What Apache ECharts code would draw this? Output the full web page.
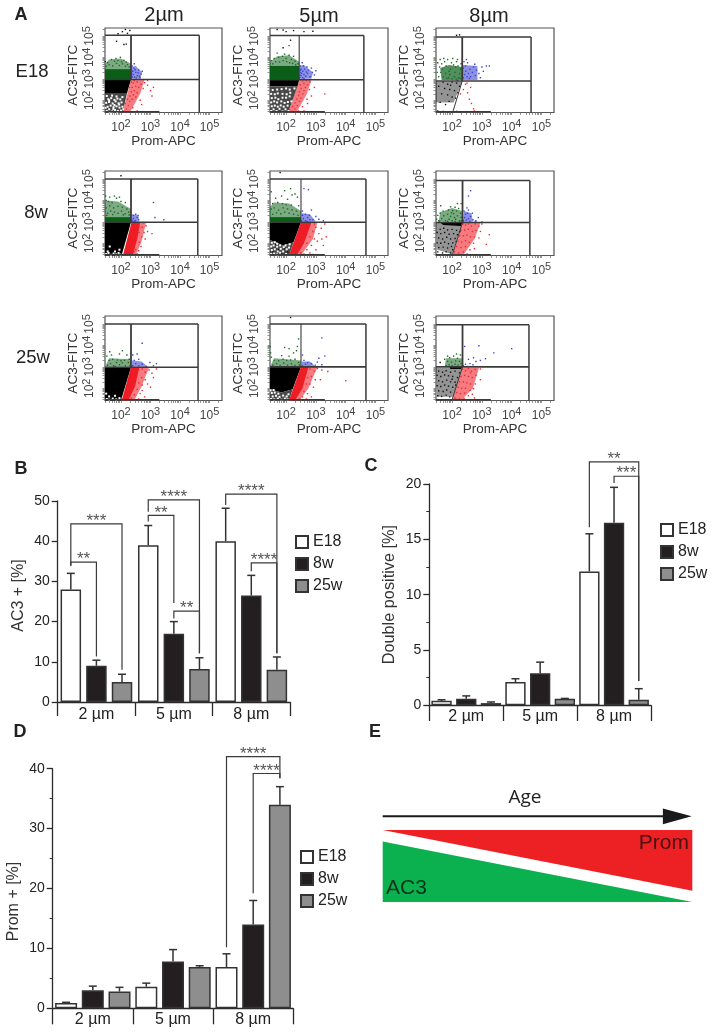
<!DOCTYPE html>
<html><head><meta charset="utf-8">
<style>html,body{margin:0;padding:0;background:#fff}#c{width:713px;height:1035px}</style>
<script src="https://cdn.jsdelivr.net/npm/echarts@6/dist/echarts.min.js"></script>
</head><body><div id="c"></div>
<script>
// ---------- Panel A: flow-cytometry gates: [vertical, right, horizontal, top, diagonal foot] (log10 units)
const gate_e18_2=[2.34,4.65,2.97,5.03,2.06], gate_e18_5=[2.44,4.61,2.96,5.02,2.07], gate_e18_8=[2.34,4.65,2.9,4.95,2.02];
const gate_8w_2=[2.34,4.6,2.98,5.0,2.07], gate_8w_5=[2.5,4.68,2.98,5.0,2.1], gate_8w_8=[2.35,4.61,2.97,4.93,2.0];
const gate_25w_2=[2.34,4.61,2.98,5.0,2.03], gate_25w_5=[2.5,4.68,3.0,5.0,2.1], gate_25w_8=[2.35,4.58,3.0,4.96,1.99];

// dense populations, outlined in log10 units
const blk_e18_2=[[1.46,2.97],[2.34,2.97],[2.2,2.3],[1.46,2.3]], spk_e18_2=[[1.46,2.3],[2.2,2.3],[2.06,1.43],[1.46,1.43]], grn_e18_2=[[1.46,2.97],[2.34,2.97],[2.34,3.45],[1.46,3.45]];
const blk_e18_5=[[1.46,2.96],[2.44,2.96],[2.38,2.65],[1.46,2.65]], spk_e18_5=[[1.46,2.65],[2.38,2.65],[2.07,1.43],[1.46,1.43]], grn_e18_5=[[1.46,2.96],[2.44,2.96],[2.44,3.6],[1.46,3.6]];
const blk_e18_8=[], spk_e18_8=[], grn_e18_8=[[1.65,2.95],[2.34,2.95],[2.34,3.55],[1.9,3.65],[1.6,3.5]];
const blk_8w_2=[[1.46,2.98],[2.34,2.98],[2.02,1.43],[1.46,1.43]], spk_8w_2=[], grn_8w_2=[[1.46,2.98],[2.34,2.98],[2.34,3.22],[1.46,3.22]], red_8w_2=[[2.07,1.43],[2.36,2.97],[2.65,2.97],[2.55,2.2],[2.4,1.43]];
const blk_8w_5=[[1.46,2.98],[2.5,2.98],[2.25,2.05],[1.9,1.9],[1.46,2.15]], spk_8w_5=[[1.46,2.15],[1.9,1.9],[2.25,2.05],[2.1,1.43],[1.46,1.43]], grn_8w_5=[[1.46,2.98],[2.5,2.98],[2.5,3.22],[1.46,3.22]], red_8w_5=[[2.1,1.43],[2.5,2.97],[2.85,2.97],[2.6,2.0],[2.35,1.43]];
const blk_8w_8=[[1.6,2.97],[2.35,2.97],[2.3,2.8],[1.7,2.85]], grn_8w_8=[], spk_8w_8=[];
const blk_25w_2=[[1.46,2.98],[2.34,2.98],[2.0,1.43],[1.46,1.43]], spk_25w_2=[], grn_25w_2=[], red_25w_2=[[2.03,1.43],[2.34,2.97],[2.62,2.97],[2.48,2.1],[2.25,1.43]];
const blk_25w_5=[[1.46,3.0],[2.5,3.0],[2.22,1.95],[1.85,1.8],[1.46,1.95]], spk_25w_5=[[1.46,1.95],[1.85,1.8],[2.22,1.95],[2.1,1.43],[1.46,1.43]], grn_25w_5=[], red_25w_5=[[2.1,1.43],[2.5,2.99],[2.75,2.99],[2.55,2.0],[2.3,1.43]];
const blk_25w_8=[[1.9,3.0],[2.35,3.0],[2.3,2.9],[1.95,2.9]], grn_25w_8=[], spk_25w_8=[];

// thinner clouds around the dense populations: green, blue, red, black
const hg_e18_2=[[1.46,3.3],[2.34,3.3],[2.34,3.7],[2.0,3.95],[1.6,3.9],[1.46,3.7]], hb_e18_2=[[2.36,3],[2.65,3],[2.72,3.3],[2.5,3.6],[2.36,3.55]], hr_e18_2=[[2.06,1.43],[2.34,2.97],[2.8,2.97],[2.65,2.3],[2.3,1.43]], hk_e18_2=[];
const hg_e18_5=[[1.46,3.4],[2.44,3.4],[2.44,3.8],[2.1,4.1],[1.7,4.05],[1.46,3.8]], hb_e18_5=[[2.46,3],[2.85,3],[2.9,3.3],[2.6,3.65],[2.46,3.6]], hr_e18_5=[[2.07,1.43],[2.44,2.96],[2.85,2.96],[2.7,2.3],[2.35,1.43]], hk_e18_5=[];
const hg_e18_8=[], hb_e18_8=[[2.36,2.95],[2.85,2.95],[2.85,3.6],[2.36,3.65]], hr_e18_8=[], hk_e18_8=[[1.46,2.88],[2.34,2.88],[2.05,1.9],[1.46,1.9]];
const hg_8w_2=[[1.46,3.2],[2.34,3.2],[2.34,3.6],[1.9,3.95],[1.46,4.0]], hb_8w_2=[[2.36,3.0],[2.6,3.0],[2.6,3.3],[2.36,3.35]], hr_8w_2=[[2.07,1.43],[2.36,2.97],[2.85,2.97],[2.7,2.1],[2.5,1.43]], hk_8w_2=[];
const hg_8w_5=[[1.46,3.15],[2.5,3.15],[2.5,3.5],[2.1,3.85],[1.6,3.9],[1.46,3.7]], hb_8w_5=[[2.52,3.0],[3.0,3.0],[2.8,3.35],[2.52,3.4]], hr_8w_5=[[2.1,1.43],[2.5,2.97],[3.05,2.97],[2.9,2.2],[2.5,1.43]], hk_8w_5=[];
const hg_8w_8=[[1.55,3],[2.35,3],[2.35,3.5],[2.0,3.65],[1.6,3.45]], hb_8w_8=[[2.37,3],[2.7,3],[2.65,3.4],[2.4,3.5]], hr_8w_8=[[2.02,1.5],[2.35,2.95],[2.95,2.95],[2.75,2.2],[2.4,1.5]], hk_8w_8=[[1.46,2.95],[2.35,2.95],[2.0,1.5],[1.5,1.7]];
const hg_25w_2=[[1.46,3],[2.34,3],[2.34,3.35],[1.6,3.4]], hb_25w_2=[[2.36,3],[2.9,3],[2.7,3.25],[2.36,3.3]], hr_25w_2=[[2.03,1.43],[2.34,2.97],[2.95,2.97],[2.7,2.1],[2.45,1.43]], hk_25w_2=[];
const hg_25w_5=[[1.46,3],[2.5,3],[2.5,3.3],[1.6,3.4]], hb_25w_5=[[2.52,3],[3.0,3],[2.8,3.25],[2.52,3.25]], hr_25w_5=[[2.1,1.43],[2.5,2.99],[3.05,2.99],[2.75,2.0],[2.45,1.43]], hk_25w_5=[];
const hg_25w_8=[[1.75,3],[2.33,3],[2.33,3.4],[1.8,3.4]], hb_25w_8=[], hr_25w_8=[[2.02,1.5],[2.35,2.95],[2.9,2.95],[2.7,2.0],[2.35,1.5]], hk_25w_8=[[1.46,2.95],[2.35,2.95],[2.05,1.6],[1.5,1.6]];

// sparse events read by eye: green, blue, red, black, white
const g_e18_2=[[1.6,3.65],[1.72,3.6],[1.85,3.72],[1.95,3.62],[2.05,3.7],[2.15,3.58],[2.22,3.66],[1.55,3.75],[1.78,3.82],[1.9,3.85],[2.02,3.8],[1.68,3.9],[2.1,3.86],[2.28,3.55],[1.5,3.58],[1.83,3.95],[1.98,4.0],[2.18,3.78]];
const b_e18_2=[[2.38,3.1],[2.42,3.2],[2.46,3.08],[2.5,3.3],[2.55,3.15],[2.4,3.35],[2.48,3.42],[2.58,3.28],[2.62,3.12],[2.68,3.22],[2.44,3.5],[2.52,3.05],[2.38,3.6],[2.6,3.42],[2.72,3.35],[2.36,3.25],[2.45,3.7],[2.65,3.05]];
const r_e18_2=[[2.1,1.55],[2.18,1.6],[2.25,1.75],[2.15,1.85],[2.3,1.95],[2.22,2.05],[2.38,2.05],[2.3,2.2],[2.42,2.25],[2.5,2.15],[2.35,2.4],[2.45,2.45],[2.55,2.35],[2.38,2.6],[2.5,2.65],[2.6,2.6],[2.42,2.8],[2.55,2.85],[2.68,2.75],[2.75,2.55],[2.8,2.82],[2.9,2.7],[3.0,2.45],[3.05,2.2],[2.65,2.0],[2.7,1.8],[2.4,1.65],[2.55,1.5],[2.9,2.92],[2.45,2.92],[2.35,2.85],[2.28,2.6],[3.1,2.6]];
const k_e18_2=[[1.9,5.1],[2.05,5.2],[2.15,5.3],[2.22,5.12],[2.3,5.25],[1.85,4.75],[2.1,4.6],[2.18,4.62],[1.47,3.8]];
const w_e18_2=[[1.52,1.5],[1.6,1.58],[1.7,1.48],[1.8,1.55],[1.9,1.5],[2.0,1.52],[1.55,1.7],[1.65,1.75],[1.75,1.68],[1.85,1.72],[1.95,1.66],[2.05,1.7],[1.5,1.88],[1.6,1.92],[1.72,1.85],[1.82,1.95],[1.92,1.86],[2.02,1.9],[1.57,2.05],[1.67,2.1],[1.78,2.02],[1.88,2.08],[1.98,2.04],[1.52,2.2],[1.7,2.22],[1.85,2.18],[2.05,2.15],[1.62,1.45],[1.74,1.6],[1.94,1.8],[1.48,1.65],[1.87,1.46],[2.08,1.58],[1.6,2.0],[1.78,1.78]];

const g_e18_5=[[1.55,3.7],[1.65,3.8],[1.78,3.78],[1.9,3.85],[2.02,3.8],[2.12,3.75],[2.22,3.72],[2.32,3.65],[1.6,3.95],[1.75,4.0],[1.88,4.05],[2.0,3.95],[2.18,3.9],[2.3,3.82],[1.5,3.85],[1.95,4.15],[2.1,4.1],[2.25,4.05],[2.4,3.7],[2.1,4.55],[1.7,4.2]];
const b_e18_5=[[2.46,3.05],[2.5,3.15],[2.55,3.05],[2.6,3.2],[2.48,3.3],[2.56,3.35],[2.66,3.12],[2.72,3.25],[2.8,3.1],[2.5,3.45],[2.62,3.45],[2.75,3.4],[2.88,3.3],[2.95,3.18],[2.48,3.6],[2.58,3.6],[2.7,3.55],[2.85,3.5],[3.0,3.38],[2.46,3.18],[2.52,3.25],[2.6,3.02],[2.47,3.4],[2.68,3.32],[2.54,3.75]];
const r_e18_5=[[2.12,1.55],[2.2,1.48],[2.3,1.6],[2.22,1.72],[2.38,1.75],[2.3,1.88],[2.45,1.95],[2.36,2.05],[2.5,2.1],[2.42,2.22],[2.56,2.3],[2.45,2.4],[2.6,2.45],[2.5,2.55],[2.65,2.6],[2.48,2.72],[2.6,2.78],[2.72,2.72],[2.55,2.9],[2.68,2.92],[2.78,2.5],[2.85,2.2],[2.7,2.05],[2.55,1.7],[2.42,1.5],[2.8,2.85],[2.95,2.6],[3.3,2.3],[2.6,1.5],[2.72,1.85]];
const k_e18_5=[[1.7,5.3],[1.9,5.28],[2.0,5.2],[2.25,5.25],[2.6,5.2],[2.9,5.22],[2.15,4.8],[1.9,4.45]];
const w_e18_5=[[1.5,1.5],[1.58,1.58],[1.68,1.5],[1.78,1.6],[1.88,1.48],[1.98,1.58],[2.08,1.5],[1.52,1.72],[1.62,1.75],[1.72,1.7],[1.82,1.76],[1.92,1.7],[2.05,1.75],[1.5,1.9],[1.6,1.95],[1.7,1.9],[1.84,1.95],[1.95,1.88],[2.06,1.92],[1.52,2.1],[1.64,2.12],[1.74,2.05],[1.88,2.12],[2.0,2.12],[2.12,2.18],[1.5,2.3],[1.62,2.28],[1.72,2.32],[1.88,2.3],[2.02,2.28],[2.14,2.35],[2.28,2.55],[1.55,2.48],[1.7,2.5],[1.85,2.52],[2.0,2.55],[2.12,2.5],[2.18,1.95]];

const g_e18_8=[[1.55,3.1],[1.62,3.3],[1.58,3.55],[1.52,3.75],[1.65,3.7],[1.75,3.8],[1.85,3.9],[1.68,3.45],[1.7,3.1],[1.78,3.25],[1.8,3.6],[1.88,3.05],[1.92,3.2],[1.95,3.45],[1.98,3.75],[2.02,3.95],[2.08,3.1],[2.1,3.3],[2.12,3.55],[2.15,3.8],[2.22,3.05],[2.25,3.25],[2.28,3.45],[2.3,3.7],[2.32,3.15],[2.2,3.6],[2.05,3.65],[1.9,3.35],[2.0,3.0],[1.72,3.95],[1.6,3.9],[2.18,3.9],[1.82,3.02],[2.27,3.02],[2.14,3.0],[1.5,3.3]];
const b_e18_8=[[2.38,3.05],[2.42,3.2],[2.46,3.35],[2.5,3.1],[2.55,3.25],[2.6,3.45],[2.38,3.5],[2.45,3.6],[2.52,3.75],[2.62,3.1],[2.68,3.3],[2.72,3.55],[2.78,3.15],[2.82,3.4],[2.9,3.25],[3.0,3.55],[3.05,3.35],[3.15,3.6],[2.4,3.8],[2.58,3.02],[2.76,3.68],[3.25,3.6],[2.95,3.05],[2.48,3.9]];
const r_e18_8=[[2.38,2.5],[2.45,2.75],[2.52,2.35],[2.58,2.05],[2.65,1.85],[2.72,1.6],[2.5,2.8],[2.62,2.6],[2.28,2.3],[2.75,1.5]];
const k_e18_8=[[1.7,2.85],[1.85,2.75],[2.0,2.85],[2.15,2.8],[2.25,2.65],[1.75,2.55],[1.92,2.5],[2.08,2.45],[2.2,2.35],[1.65,2.3],[1.85,2.25],[2.0,2.15],[2.12,2.1],[1.55,2.65],[1.6,1.9],[1.78,1.8],[1.9,1.95],[1.52,1.5],[1.7,1.48],[1.85,1.46],[2.0,1.46],[2.15,1.48],[2.3,1.47],[2.5,1.47],[2.7,1.47],[2.15,5.03],[2.25,5.05],[1.62,1.46],[1.95,2.7],[2.18,2.92]];

const g_8w_2=[[1.55,3.4],[1.65,3.5],[1.78,3.45],[1.9,3.4],[2.02,3.5],[2.14,3.38],[2.26,3.45],[1.5,3.65],[1.62,3.75],[1.75,3.65],[1.9,3.72],[2.05,3.68],[2.2,3.6],[1.5,4.0],[1.58,3.95],[1.7,3.9],[1.85,4.1],[2.0,3.95],[2.15,3.9],[1.62,4.15],[1.78,4.2],[1.95,4.15],[1.48,4.2],[2.28,3.32],[1.52,3.3],[1.72,3.34],[2.08,3.32]];
const b_8w_2=[[2.38,3.05],[2.42,3.15],[2.48,3.05],[2.55,3.2],[2.42,3.3],[2.5,3.35],[2.6,3.1],[2.45,3.0],[2.58,3.3],[3.15,3.2],[3.45,3.1],[3.1,3.9]];
const r_8w_2=[[2.6,2.8],[2.72,2.75],[2.78,2.5],[2.7,2.3],[2.62,2.05],[2.68,1.85],[2.5,1.7],[2.55,1.5],[2.82,2.2],[2.9,2.55],[3.05,2.45],[2.75,2.95],[2.62,2.5],[2.45,1.6],[2.6,1.65],[2.85,2.82]];
const k_8w_2=[[2.0,5.15]];
const w_8w_2=[[1.5,1.5],[1.58,1.55],[1.66,1.46],[1.75,1.52],[1.84,1.48],[1.92,1.55],[1.98,1.47],[1.55,1.62],[1.8,1.62],[1.95,1.7],[1.62,1.85]];

const g_8w_5=[[1.55,3.35],[1.68,3.42],[1.82,3.38],[1.95,3.45],[2.1,3.4],[2.25,3.35],[2.4,3.3],[1.5,3.6],[1.6,3.65],[1.75,3.55],[1.9,3.65],[2.05,3.6],[2.2,3.55],[2.35,3.5],[1.55,3.85],[1.72,3.9],[1.88,3.85],[2.0,3.8],[2.18,3.78],[1.65,4.1],[1.85,4.2],[2.05,4.05],[2.2,4.25],[1.95,4.45],[2.15,4.55],[2.3,4.3],[2.38,4.15],[1.5,4.4],[2.42,3.75]];
const b_8w_5=[[2.52,3.05],[2.58,3.15],[2.65,3.05],[2.72,3.2],[2.8,3.1],[2.55,3.3],[2.65,3.35],[2.78,3.3],[2.9,3.1],[3.0,3.25],[3.1,3.12],[3.25,3.05],[2.85,3.55],[2.6,4.55],[2.75,4.5],[2.55,3.5],[2.7,3.02]];
const r_8w_5=[[2.7,2.0],[2.8,2.3],[2.9,2.55],[3.0,2.75],[2.95,2.2],[3.1,2.45],[3.18,2.7],[2.7,1.7],[2.5,1.55],[2.6,1.5],[2.85,1.9],[3.05,2.1],[3.3,2.9],[3.35,2.3],[3.0,1.7],[2.95,2.9],[3.2,2.2],[2.8,1.55],[3.25,1.9],[2.9,1.48]];
const k_8w_5=[[1.8,5.3],[1.55,1.6],[1.75,1.7],[1.95,1.75],[1.65,1.95],[1.85,1.5],[2.05,1.6]];
const w_8w_5=[[1.5,1.5],[1.6,1.52],[1.7,1.48],[1.8,1.56],[1.9,1.62],[2.0,1.5],[1.52,1.68],[1.62,1.72],[1.72,1.62],[1.82,1.74],[1.92,1.82],[2.02,1.72],[1.5,1.85],[1.58,1.9],[1.7,1.84],[1.8,1.9],[1.98,1.9],[2.1,1.8],[1.52,2.02],[1.62,2.05],[1.7,1.98],[2.12,1.95]];

const g_8w_8=[[1.55,3.05],[1.65,3.15],[1.78,3.05],[1.9,3.12],[2.0,3.05],[2.12,3.12],[2.25,3.05],[2.3,3.2],[1.52,3.3],[1.6,3.4],[1.72,3.28],[1.85,3.35],[1.95,3.25],[2.05,3.38],[2.18,3.28],[2.28,3.4],[1.7,3.5],[1.88,3.55],[2.02,3.52],[2.15,3.5],[2.22,3.62],[1.62,3.75],[1.95,3.7],[2.1,3.68],[2.3,3.85],[2.18,3.85],[2.25,3.02],[2.1,3.02],[1.85,3.02],[1.48,3.12],[1.58,3.02],[2.32,3.05],[2.08,3.2],[1.98,3.42]];
const b_8w_8=[[2.38,3.05],[2.42,3.2],[2.48,3.08],[2.55,3.15],[2.6,3.02],[2.45,3.35],[2.52,3.4],[2.62,3.25],[2.7,3.1],[2.8,3.05],[2.88,3.2],[2.55,3.55],[2.4,3.5],[2.68,3.4],[3.0,3.0],[2.55,4.2],[2.62,4.45],[2.78,3.02],[2.5,3.65]];
const r_8w_8=[[2.36,2.9],[2.45,2.85],[2.55,2.9],[2.65,2.8],[2.78,2.9],[2.9,2.8],[3.0,2.9],[2.3,2.6],[2.42,2.62],[2.55,2.65],[2.68,2.55],[2.8,2.6],[2.95,2.55],[3.25,2.4],[2.25,2.35],[2.38,2.35],[2.5,2.38],[2.62,2.3],[2.75,2.3],[2.9,2.25],[2.2,2.1],[2.32,2.05],[2.45,2.12],[2.58,2.05],[2.72,2.0],[2.15,1.85],[2.3,1.8],[2.45,1.85],[2.6,1.7],[2.08,1.6],[2.22,1.55],[2.38,1.6],[2.5,1.5],[2.75,1.75],[3.15,1.95]];
const k_8w_8=[[1.6,2.65],[1.72,2.7],[1.85,2.62],[2.0,2.65],[2.15,2.6],[2.26,2.55],[1.5,2.5],[1.62,2.45],[1.75,2.5],[1.9,2.42],[2.05,2.45],[2.18,2.4],[1.55,2.25],[1.68,2.2],[1.82,2.28],[1.95,2.2],[2.1,2.22],[1.5,2.02],[1.62,2.0],[1.75,2.05],[1.88,1.98],[2.02,2.02],[2.14,2.08],[1.55,1.8],[1.7,1.82],[1.85,1.78],[1.98,1.85],[1.52,1.6],[1.68,1.55],[1.8,1.6],[1.95,1.55],[2.02,1.7],[1.5,1.47],[1.7,1.47],[1.85,1.46],[2.0,1.47],[2.2,1.47],[2.4,1.47],[2.6,1.47],[2.8,1.47]];

const g_25w_2=[[1.55,3.08],[1.65,3.15],[1.75,3.05],[1.85,3.2],[1.95,3.1],[2.05,3.18],[2.15,3.05],[2.25,3.2],[1.6,3.3],[1.72,3.35],[1.88,3.32],[2.0,3.28],[2.12,3.3],[2.28,3.35],[1.52,3.5],[1.68,3.55],[1.95,3.6],[2.2,3.55],[2.05,3.75],[1.62,3.7],[2.3,3.05],[1.8,3.02]];
const b_25w_2=[[2.4,3.05],[2.5,3.15],[2.6,3.05],[2.72,3.12],[2.85,3.02],[2.45,3.3],[2.98,3.2],[3.1,3.05],[2.4,3.55],[2.55,3.6],[2.72,4.1],[2.6,3.35],[3.2,3.15]];
const r_25w_2=[[2.6,2.85],[2.72,2.9],[2.82,2.75],[2.95,2.85],[3.05,2.7],[2.7,2.5],[2.82,2.4],[2.6,2.25],[2.72,2.15],[2.55,1.95],[2.65,1.75],[2.9,2.2],[3.2,2.9],[3.1,2.5],[2.45,1.7],[2.6,1.5],[2.35,1.55],[2.8,1.6],[2.72,1.9],[3.0,2.05]];
const k_25w_2=[];
const w_25w_2=[[1.52,1.5],[1.6,1.47],[1.72,1.52],[1.84,1.48],[1.95,1.54],[1.6,1.62],[1.5,1.75],[1.8,1.65]];

const g_25w_5=[[1.55,3.08],[1.68,3.15],[1.8,3.06],[1.92,3.18],[2.05,3.08],[2.18,3.15],[2.3,3.06],[2.42,3.2],[1.6,3.3],[1.75,3.28],[1.9,3.35],[2.02,3.3],[2.15,3.32],[2.3,3.35],[1.5,3.45],[1.85,3.52],[2.1,3.5],[2.25,3.65],[2.1,3.85],[1.95,3.9],[2.35,3.75],[2.42,4.3],[2.38,3.95],[1.48,3.65],[1.47,3.95],[2.45,3.08],[1.6,3.02],[2.2,3.02]];
const b_25w_5=[[2.55,3.05],[2.65,3.12],[2.75,3.02],[2.85,3.15],[2.98,3.08],[3.05,3.22],[2.6,3.3],[3.2,3.1],[3.1,3.4],[3.3,3.5],[3.2,4.35],[2.72,3.2],[2.55,3.55]];
const r_25w_5=[[2.8,2.9],[2.95,2.8],[3.05,2.92],[3.2,2.85],[3.4,2.78],[2.72,2.5],[2.85,2.55],[2.98,2.4],[2.68,2.2],[2.8,2.2],[2.92,2.05],[2.6,1.85],[2.72,1.75],[2.55,1.6],[2.45,1.5],[2.68,1.5],[4.0,2.35],[3.15,2.4],[2.85,1.6]];
const k_25w_5=[[2.15,5.3]];
const w_25w_5=[[1.5,1.5],[1.6,1.48],[1.72,1.52],[1.84,1.47],[1.96,1.52],[2.05,1.48],[1.55,1.62],[1.66,1.65],[1.78,1.6],[1.9,1.66],[2.02,1.62],[1.52,1.78],[1.62,1.8],[1.74,1.75],[1.48,1.9],[2.08,1.72],[1.58,1.92]];

const g_25w_8=[[1.8,3.05],[1.9,3.1],[2.0,3.05],[2.1,3.12],[2.2,3.08],[2.3,3.15],[1.85,3.25],[1.98,3.22],[2.12,3.28],[2.25,3.25],[1.75,3.35],[1.92,3.42],[2.18,3.4],[2.28,3.55],[1.85,3.5],[2.05,3.5],[2.15,3.6]];
const b_25w_8=[[2.38,3.05],[2.45,3.12],[2.52,3.02],[2.6,3.15],[2.7,3.1],[2.8,3.25],[2.95,3.3],[3.12,3.38],[3.4,3.65],[4.0,3.85],[2.42,3.95],[2.9,3.98],[2.55,3.35],[2.72,3.42]];
const r_25w_8=[[2.34,2.9],[2.45,2.82],[2.55,2.92],[2.65,2.8],[2.78,2.88],[2.95,2.9],[2.3,2.55],[2.42,2.6],[2.55,2.55],[2.68,2.5],[2.8,2.6],[2.95,2.4],[2.25,2.3],[2.38,2.3],[2.5,2.25],[2.62,2.2],[2.78,2.2],[2.2,2.05],[2.32,2.0],[2.45,2.0],[2.6,1.9],[2.72,1.98],[2.15,1.8],[2.28,1.75],[2.42,1.78],[2.55,1.65],[2.1,1.55],[2.25,1.5],[2.4,1.52],[2.75,1.55],[2.68,1.72],[2.62,2.72]];
const k_25w_8=[[1.55,2.8],[1.68,2.75],[1.8,2.82],[1.95,2.75],[2.1,2.8],[2.25,2.72],[1.5,2.6],[1.62,2.55],[1.75,2.62],[1.88,2.58],[2.02,2.55],[2.18,2.5],[1.55,2.35],[1.68,2.3],[1.82,2.38],[1.95,2.3],[2.1,2.28],[1.5,2.12],[1.62,2.08],[1.75,2.15],[1.88,2.1],[2.02,2.05],[2.12,2.15],[1.55,1.88],[1.7,1.85],[1.82,1.92],[1.95,1.82],[1.52,1.65],[1.65,1.62],[1.8,1.68],[1.92,1.6],[1.5,1.47],[1.62,1.46],[1.78,1.47],[1.95,1.46],[2.15,1.47],[2.35,1.47],[2.6,1.47],[2.85,1.46],[1.6,3.2],[2.0,2.42]];

const decadeLabels=[2,3,4,5];
const logTicks=[1.48,1.6,1.7,1.78,1.85,1.9,1.95,2,2.3,2.48,2.6,2.7,2.78,2.85,2.9,2.95,3,3.3,3.48,3.6,3.7,3.78,3.85,3.9,3.95,4,4.3,4.48,4.6,4.7,4.78,4.85,4.9,4.95,5,5.3];

// ---------- Panels B, C, D
const categories=['2 µm','5 µm','8 µm'];
const groups=['E18','8w','25w'];
const b_e18=[28,39,40], b_8w=[9,17,26.5], b_25w=[5,8.2,8];
const b_e18_up=[32,43.9,48.2], b_8w_up=[10.4,20,31.5], b_25w_up=[6.9,11,11.2];
const c_e18=[0.4,2.1,12.1], c_8w=[0.6,2.9,16.5], c_25w=[0.2,0.6,0.5];
const c_e18_up=[0.5,2.4,15.5], c_8w_up=[0.85,3.9,19.7], c_25w_up=[0.3,0.62,1.5];
const d_e18=[0.9,3.6,6.9], d_8w=[3,7.8,14], d_25w=[2.8,6.9,34];
const d_e18_up=[1,4.2,9.1], d_8w_up=[3.7,9.8,18], d_25w_up=[3.5,7.1,37];
// brackets: [category, left bar, left foot, right bar, right foot, top, stars]
const b_brackets=[[0,0,33.9,2,8,44.3,'***'],[0,0,33.9,1,11.3,34.8,'**'],[1,0,47.3,2,12.1,50.3,'****'],[1,0,44.9,1,24.6,46.4,'**'],[1,1,20.8,2,12.1,22.6,'**'],[2,0,49,2,12.1,51.7,'****'],[2,1,32.5,2,12.1,34.6,'****']];
const c_brackets=[[2,0,16.1,2,2.2,22,'**'],[2,1,20.1,2,2.2,20.7,'***']];
const d_brackets=[[2,0,10.2,2,38.4,42,'****'],[2,1,19.2,2,38.4,39.2,'****']];

// ---------- Panel E (schematic, 0–100 both ways)
const promWedge=[[0,100],[100,100],[100,15.7]];
const ac3Wedge=[[0,84],[100,0],[0,0]];
const arrowShaft=[[0,119],[91,119]];
const arrowHead=[[90.5,130],[99.8,119],[90.5,108]];

// ---------- assemble
const panelData=[
 {n:'e18_2',c:0,r:0,gate:gate_e18_2,blk:blk_e18_2,spk:spk_e18_2,grn:grn_e18_2,red:[],hg:hg_e18_2,hb:hb_e18_2,hr:hr_e18_2,hk:hk_e18_2,g:g_e18_2,b:b_e18_2,rr:r_e18_2,k:k_e18_2,w:w_e18_2},
 {n:'e18_5',c:1,r:0,gate:gate_e18_5,blk:blk_e18_5,spk:spk_e18_5,grn:grn_e18_5,red:[],hg:hg_e18_5,hb:hb_e18_5,hr:hr_e18_5,hk:hk_e18_5,g:g_e18_5,b:b_e18_5,rr:r_e18_5,k:k_e18_5,w:w_e18_5},
 {n:'e18_8',c:2,r:0,gate:gate_e18_8,blk:blk_e18_8,spk:spk_e18_8,grn:grn_e18_8,red:[],hg:hg_e18_8,hb:hb_e18_8,hr:hr_e18_8,hk:hk_e18_8,g:g_e18_8,b:b_e18_8,rr:r_e18_8,k:k_e18_8,w:[]},
 {n:'8w_2',c:0,r:1,gate:gate_8w_2,blk:blk_8w_2,spk:spk_8w_2,grn:grn_8w_2,red:red_8w_2,hg:hg_8w_2,hb:hb_8w_2,hr:hr_8w_2,hk:hk_8w_2,g:g_8w_2,b:b_8w_2,rr:r_8w_2,k:k_8w_2,w:w_8w_2},
 {n:'8w_5',c:1,r:1,gate:gate_8w_5,blk:blk_8w_5,spk:spk_8w_5,grn:grn_8w_5,red:red_8w_5,hg:hg_8w_5,hb:hb_8w_5,hr:hr_8w_5,hk:hk_8w_5,g:g_8w_5,b:b_8w_5,rr:r_8w_5,k:k_8w_5,w:w_8w_5},
 {n:'8w_8',c:2,r:1,gate:gate_8w_8,blk:blk_8w_8,spk:spk_8w_8,grn:grn_8w_8,red:[],hg:hg_8w_8,hb:hb_8w_8,hr:hr_8w_8,hk:hk_8w_8,g:g_8w_8,b:b_8w_8,rr:r_8w_8,k:k_8w_8,w:[]},
 {n:'25w_2',c:0,r:2,gate:gate_25w_2,blk:blk_25w_2,spk:spk_25w_2,grn:grn_25w_2,red:red_25w_2,hg:hg_25w_2,hb:hb_25w_2,hr:hr_25w_2,hk:hk_25w_2,g:g_25w_2,b:b_25w_2,rr:r_25w_2,k:k_25w_2,w:w_25w_2},
 {n:'25w_5',c:1,r:2,gate:gate_25w_5,blk:blk_25w_5,spk:spk_25w_5,grn:grn_25w_5,red:red_25w_5,hg:hg_25w_5,hb:hb_25w_5,hr:hr_25w_5,hk:hk_25w_5,g:g_25w_5,b:b_25w_5,rr:r_25w_5,k:k_25w_5,w:w_25w_5},
 {n:'25w_8',c:2,r:2,gate:gate_25w_8,blk:blk_25w_8,spk:spk_25w_8,grn:grn_25w_8,red:[],hg:hg_25w_8,hb:hb_25w_8,hr:hr_25w_8,hk:hk_25w_8,g:g_25w_8,b:b_25w_8,rr:r_25w_8,k:k_25w_8,w:[]}
];
const FONT='"Liberation Sans", Arial, sans-serif', INK='#2b2b2b';
const colLeft=[105,270,436], colW=[117,118,118], rowTop=[28,171,316], rowH=84.5;
const XMIN=1.46,XMAX=5.42,YMIN=1.43,YMAX=5.37;
const grid=[],xAxis=[],yAxis=[],series=[],legend=[];
const sup=v=>'{b|10}{s|'+v+'}';
const rich={b:{fontSize:12,color:'#444',fontFamily:FONT},s:{fontSize:11,color:'#444',fontFamily:FONT,padding:[0,0,7,0]}};

function polySeries(i,pts,color,z){
  if(!pts.length) return;
  series.push({type:'custom',xAxisIndex:i,yAxisIndex:i,coordinateSystem:'cartesian2d',silent:true,z,data:[pts[0]],
    renderItem:(p,api)=>({type:'polygon',shape:{points:pts.map(q=>api.coord(q))},style:{fill:color,stroke:'none'}})});
}
function ptSeries(i,pts,color,size,z){
  if(!pts.length) return;
  series.push({type:'scatter',xAxisIndex:i,yAxisIndex:i,data:pts,symbol:'rect',symbolSize:size,silent:true,z,itemStyle:{color,opacity:1},clip:true,animation:false});
}
panelData.forEach((p,i)=>{
  grid.push({left:colLeft[p.c],top:rowTop[p.r],width:colW[p.c],height:rowH,show:true,borderColor:'#555',borderWidth:1.2,backgroundColor:'#fff'});
  const ax={type:'value',gridIndex:i,splitLine:{show:false},axisLine:{show:false},nameLocation:'middle'};
  xAxis.push({...ax,min:XMIN,max:XMAX,name:'Prom-APC',nameGap:17,nameTextStyle:{fontSize:13.5,color:'#333',fontFamily:FONT},
    axisTick:{show:true,length:2.5,lineStyle:{color:'#777',width:0.8},customValues:logTicks},
    axisLabel:{customValues:decadeLabels,formatter:sup,rich,margin:6,hideOverlap:false}});
  yAxis.push({...ax,min:YMIN,max:YMAX,name:'AC3-FITC',nameGap:17,nameTextStyle:{fontSize:13.5,color:'#333',fontFamily:FONT,padding:[0,10,0,0]},
    axisTick:{show:true,length:2.5,lineStyle:{color:'#777',width:0.8},customValues:logTicks},
    axisLabel:{customValues:decadeLabels,formatter:sup,rich,margin:6,rotate:90,hideOverlap:false}});
  polySeries(i,p.hk,'rgba(0,0,0,.42)',1);
  polySeries(i,p.hg,'rgba(15,100,30,.55)',1);
  polySeries(i,p.hb,'rgba(45,55,205,.55)',1);
  polySeries(i,p.hr,'rgba(238,28,37,.58)',1);
  polySeries(i,p.blk,'#000',2);
  polySeries(i,p.spk,'#474747',2);
  polySeries(i,p.grn,p.n==='e18_8'?'rgba(10,95,25,.7)':'#0b5e17',2);
  polySeries(i,p.red,'#ee1c25',2);
  ptSeries(i,p.g,'#1c6b26',1.4,3);
  ptSeries(i,p.b,'#3a46cf',1.4,3);
  ptSeries(i,p.rr,'#ee2a30',1.4,3);
  ptSeries(i,p.k,'#111',1.4,3);
  ptSeries(i,p.w,'#fff',2,4);
  const [v,rt,h,tp,d]=p.gate;
  const lines=[[[XMIN,tp],[rt,tp],1.5],[[rt,tp],[rt,YMIN],1.5],[[XMIN,h],[rt,h],1.6],[[v,tp],[v,h],p.c===1?1.1:1.8],[[d,YMIN],[v,h],p.c===2?1:0],[[XMIN,YMIN+0.03],[3.3,YMIN+0.03],1.5]];
  series.push({type:'custom',xAxisIndex:i,yAxisIndex:i,coordinateSystem:'cartesian2d',silent:true,z:6,data:[[v,h]],
    renderItem:(pp,api)=>({type:'group',children:lines.filter(l=>l[2]>0).map(l=>{const a=api.coord(l[0]),b=api.coord(l[1]);
      return {type:'line',shape:{x1:a[0],y1:a[1],x2:b[0],y2:b[1]},style:{stroke:'#3a3a3a',lineWidth:l[2]}};})})});
});

function barChart(cfg){
  const i=grid.length;
  grid.push({left:cfg.left,top:cfg.top,width:cfg.width,height:cfg.height});
  xAxis.push({type:'category',gridIndex:i,data:categories,
    axisLine:{show:true,lineStyle:{color:INK,width:1.3}},axisTick:{show:true,length:cfg.tick,lineStyle:{color:INK,width:1.3},alignWithLabel:false,interval:0},
    axisLabel:{fontSize:16,color:'#222',fontFamily:FONT,margin:cfg.margin,interval:0}});
  yAxis.push({type:'value',gridIndex:i,min:0,max:cfg.max,interval:cfg.interval,name:cfg.name,nameLocation:'middle',nameGap:cfg.nameGap,
    nameTextStyle:{fontSize:cfg.nameSize,color:'#333',fontFamily:FONT,padding:cfg.namePad},
    axisLine:{show:true,lineStyle:{color:INK,width:1.3}},axisTick:{show:true,length:6,lineStyle:{color:INK,width:1.3}},
    minorTick:cfg.minor?{show:true,splitNumber:2,length:3,lineStyle:{color:INK,width:1}}:{show:false},
    axisLabel:{fontSize:14,color:'#222',fontFamily:FONT,margin:8},splitLine:{show:false}});
  const fills=['#fff','#231f20','#8e8e8e'];
  cfg.vals.forEach((vals,k)=>{
    series.push({type:'bar',name:groups[k],xAxisIndex:i,yAxisIndex:i,data:vals,barWidth:cfg.bar,barGap:(cfg.gap/cfg.bar*100)+'%',
      itemStyle:{color:fills[k],borderColor:'#333',borderWidth:1.5},silent:true,z:3});
  });
  const slot=cfg.bar+cfg.gap;
  cfg.ups.forEach((ups,k)=>{
    series.push({type:'custom',xAxisIndex:i,yAxisIndex:i,coordinateSystem:'cartesian2d',silent:true,z:2,
      data:ups.map((u,c)=>[c,u]),
      renderItem:(p,api)=>{const c=p.dataIndex;const base=api.coord([c,cfg.vals[k][c]]);const top=api.coord([c,ups[c]]);
        const x=base[0]+(k-1)*slot;
        return {type:'group',children:[
          {type:'line',shape:{x1:x,y1:base[1],x2:x,y2:top[1]},style:{stroke:'#333',lineWidth:1.5}},
          {type:'line',shape:{x1:x-4,y1:top[1],x2:x+4,y2:top[1]},style:{stroke:'#333',lineWidth:1.5}}]};}});
  });
  series.push({type:'custom',xAxisIndex:i,yAxisIndex:i,coordinateSystem:'cartesian2d',silent:true,z:5,clip:false,
    data:cfg.brackets.map(b=>[b[0],b[5]]),
    renderItem:(p,api)=>{const b=cfg.brackets[p.dataIndex];const m=api.coord([b[0],0])[0];
      const xa=m+(b[1]-1)*slot,xb=m+(b[3]-1)*slot;
      const yt=api.coord([b[0],b[5]])[1],ya=api.coord([b[0],b[2]])[1],yb=api.coord([b[0],b[4]])[1];
      return {type:'group',children:[
        {type:'polyline',shape:{points:[[xa,ya],[xa,yt],[xb,yt],[xb,yb]]},style:{stroke:'#3a3a3a',lineWidth:1.2,fill:'none'}},
        {type:'text',style:{text:b[6],x:(xa+xb)/2,y:yt+6,align:'center',verticalAlign:'bottom',fontSize:17,fontFamily:FONT,fill:'#555'}}]};}});
  legend.push({data:groups,orient:'vertical',left:cfg.lx,top:cfg.ly,padding:0,itemWidth:12,itemHeight:12,itemGap:cfg.lgap,selectedMode:false,
    textStyle:{fontSize:16,color:'#222',fontFamily:FONT},icon:'rect'});
}
barChart({left:57.7,top:501,width:232.3,height:201,max:50,interval:10,name:'AC3 + [%]',nameSize:16,nameGap:31,namePad:[0,0,0,12],tick:14,margin:5,
  vals:[b_e18,b_8w,b_25w],ups:[b_e18_up,b_8w_up,b_25w_up],brackets:b_brackets,bar:20.5,gap:5.1,lx:295,ly:534,lgap:6});
barChart({left:429.3,top:484,width:221.7,height:221.3,max:20,interval:5,minor:true,name:'Double positive [%]',nameSize:16.3,nameGap:32,namePad:[0,0,0,0],tick:15.7,margin:3,
  vals:[c_e18,c_8w,c_25w],ups:[c_e18_up,c_8w_up,c_25w_up],brackets:c_brackets,bar:20.3,gap:4.4,lx:660,ly:522,lgap:6});
barChart({left:52.7,top:768.7,width:240.6,height:239.6,max:40,interval:10,minor:true,name:'Prom + [%]',nameSize:16,nameGap:31,namePad:[0,26,0,0],tick:16,margin:3,
  vals:[d_e18,d_8w,d_25w],ups:[d_e18_up,d_8w_up,d_25w_up],brackets:d_brackets,bar:22,gap:4.7,lx:300,ly:849,lgap:6});

// schematic grid
(function(){
  const i=grid.length;
  grid.push({left:382.7,top:830,width:309.6,height:72});
  xAxis.push({type:'value',gridIndex:i,min:0,max:100,show:false});
  yAxis.push({type:'value',gridIndex:i,min:0,max:100,show:false});
  polySeries(i,promWedge,'#ed2024',2);
  polySeries(i,ac3Wedge,'#0cb14f',2);
  polySeries(i,arrowHead,'#1a1a1a',3);
  series.push({type:'line',xAxisIndex:i,yAxisIndex:i,data:arrowShaft,symbol:'none',silent:true,lineStyle:{color:'#1a1a1a',width:2},clip:false,z:3});
})();

const t=(text,x,y,size,o={})=>({type:'text',z:100,x,y,style:{text,fontSize:size,fontFamily:o.font||FONT,fontWeight:o.w||'normal',fill:o.c||'#222',align:o.a||'center',verticalAlign:'middle'}});
const graphic=[
 t('A',21,15,18,{w:'bold'}),t('B',21,469,18,{w:'bold'}),t('C',371,466,18,{w:'bold'}),t('D',20,732,18,{w:'bold'}),t('E',375,732,18,{w:'bold'}),
 t('2µm',164,15,20),t('5µm',319,16,20),t('8µm',489,16,20),
 t('E18',32,72,18.5),t('8w',36,213,18.5),t('25w',33,358,18.5),
 t('Age',525,798,19,{font:'"Open Sans", sans-serif'}),
 t('Prom',689,843,21,{a:'right',c:'#4a1214'}),
 t('AC3',386,888,21,{a:'left',c:'#07361b'})
];
const chart=echarts.init(document.getElementById('c'),null,{renderer:'canvas'});
chart.setOption({animation:false,backgroundColor:'#fff',tooltip:{show:false},grid,xAxis,yAxis,series,legend,graphic});
</script></body></html>
